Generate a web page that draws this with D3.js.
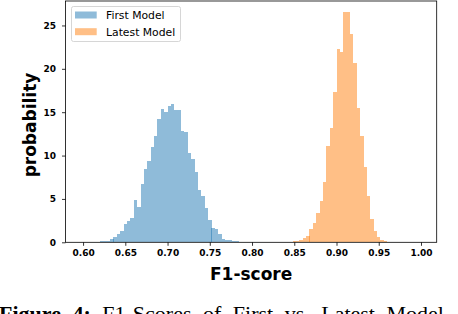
<!DOCTYPE html>
<html>
<head>
<meta charset="utf-8">
<script src="https://cdn.jsdelivr.net/npm/d3@7"></script>
<style>
  html, body { margin: 0; padding: 0; background: #fff; }
  svg { display: block; }
</style>
</head>
<body>
<svg id="chart" width="458" height="314"></svg>
<script>
// ---- data ----
const seriesNames = ["First Model", "Latest Model"];
const binWidth = 0.004;
const firstStart = 0.620;
const firstDensity = [0.2, 0.2, 0.2, 0.35, 0.58, 0.92, 1.27, 2.07, 2.42, 2.76,
  4.84, 4.03, 6.68, 8.41, 9.33, 10.94, 12.21, 14.17, 15.32, 14.98,
  15.67, 15.90, 15.21, 15.21, 12.79, 12.67, 10.25, 9.56, 8.06, 5.99,
  5.30, 3.92, 2.53, 1.61, 1.50, 0.92, 0.35, 0.23, 0.23, 0.12, 0.12];
const latestStart = 0.848;
const latestDensity = [0.12, 0.12, 0.23, 0.46, 0.69, 1.5, 2.19, 3.34, 4.72, 6.91,
  11.06, 13.13, 17.28, 22.24, 21.89, 26.5, 26.5, 23.96, 20.62, 15.44,
  12.21, 8.64, 5.30, 2.65, 1.27, 0.58, 0.23, 0.12];
const xTicks = [0.60, 0.65, 0.70, 0.75, 0.80, 0.85, 0.90, 0.95, 1.00];
const yTicks = [0, 5, 10, 15, 20, 25];
const xLabel = "F1-score";
const yLabel = "probability";
const caption = ["Figure 4:", " F1-Scores of First vs. Latest Model"];

// ---- layout ----
const svg = d3.select("#chart");
const plot = { left: 65.5, right: 436.7, top: 1, bottom: 242.3 };
const x = d3.scaleLinear().domain([0.5792, 1.0186]).range([plot.left, plot.right]);
const y = d3.scaleLinear().domain([0, 27.82]).range([plot.bottom, plot.top]);
const colors = ["#1f77b4", "#ff7f0e"];

function bins(start, vals) {
  return vals.map((v, i) => ({ x0: start + i * binWidth, x1: start + (i + 1) * binWidth, v }));
}
const series = [bins(firstStart, firstDensity), bins(latestStart, latestDensity)];

series.forEach((s, si) => {
  svg.append("g").selectAll("rect").data(s).join("rect")
    .attr("x", d => x(d.x0))
    .attr("width", d => x(d.x1) - x(d.x0) + 0.05)
    .attr("y", d => y(d.v))
    .attr("height", d => y(0) - y(d.v))
    .attr("fill", colors[si])
    .attr("fill-opacity", 0.5)
    .attr("shape-rendering", "crispEdges");
});

// axes
const xAxis = d3.axisBottom(x).tickValues(xTicks).tickFormat(d3.format(".2f")).tickSize(3.5).tickPadding(4);
const yAxis = d3.axisLeft(y).tickValues(yTicks).tickFormat(d3.format("d")).tickSize(3.5).tickPadding(6);
const gx = svg.append("g").attr("transform", `translate(0,${plot.bottom})`).call(xAxis);
const gy = svg.append("g").attr("transform", `translate(${plot.left},0)`).call(yAxis);
[gx, gy].forEach(g => {
  g.select(".domain").remove();
  g.selectAll(".tick line").attr("stroke", "#000").attr("stroke-width", 0.8);
  g.selectAll(".tick text").attr("fill", "#000")
    .style("font-family", "DejaVu Sans").style("font-weight", "bold").style("font-size", "9px");
});
// frame
svg.append("rect")
  .attr("x", plot.left).attr("y", plot.top)
  .attr("width", plot.right - plot.left).attr("height", plot.bottom - plot.top)
  .attr("fill", "none").attr("stroke", "#000").attr("stroke-width", 0.8);

// axis labels
svg.append("text").attr("x", (plot.left + plot.right) / 2).attr("y", 280)
  .attr("text-anchor", "middle")
  .style("font-family", "DejaVu Sans").style("font-weight", "bold").style("font-size", "17px")
  .text(xLabel);
svg.append("text")
  .attr("transform", `translate(36,125) rotate(-90)`)
  .attr("text-anchor", "middle")
  .style("font-family", "DejaVu Sans").style("font-weight", "bold").style("font-size", "17px")
  .text(yLabel);

// legend
const lg = svg.append("g").attr("transform", "translate(71.5,6.5)");
lg.append("rect").attr("width", 109).attr("height", 35).attr("rx", 2)
  .attr("fill", "#fff").attr("fill-opacity", 0.8).attr("stroke", "#ccc").attr("stroke-width", 0.8);
seriesNames.forEach((name, i) => {
  const row = lg.append("g").attr("transform", `translate(0,${5 + i * 16.7})`);
  row.append("rect").attr("x", 3.5).attr("y", 0).attr("width", 21.7).attr("height", 7)
    .attr("fill", colors[i]).attr("fill-opacity", 0.5);
  row.append("text").attr("x", 34.5).attr("y", 7.8)
    .style("font-family", "DejaVu Sans").style("font-size", "10.8px").attr("fill", "#000")
    .text(name);
});

// caption (cut off at the bottom edge, as in the reference)
const cap = svg.append("text").attr("x", -1).attr("y", 321)
  .style("font-family", "Liberation Serif").style("font-size", "22px")
  .style("word-spacing", "6px").attr("fill", "#000");
cap.append("tspan").style("font-weight", "bold").text(caption[0]);
cap.append("tspan").text(caption[1]);
</script>
</body>
</html>
